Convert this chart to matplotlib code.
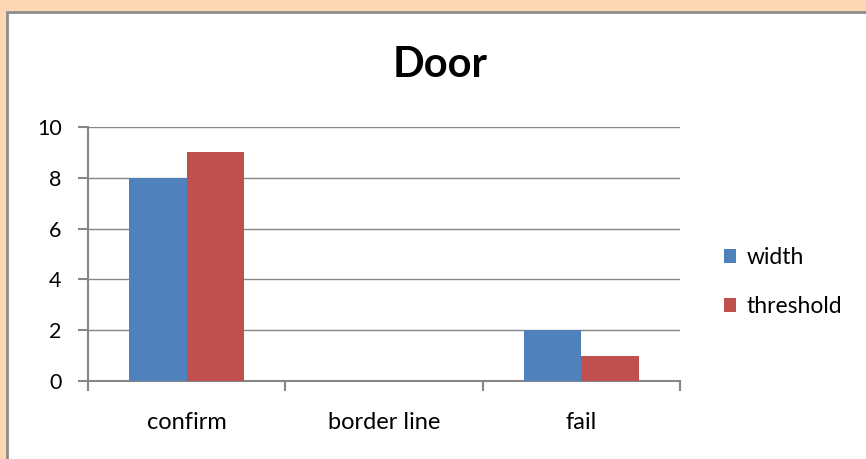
import matplotlib
matplotlib.use("Agg")
import matplotlib.pyplot as plt
from matplotlib.patches import Rectangle
import numpy as np

categories = ["confirm", "border line", "fail"]
width_vals = [8, 0, 2]
threshold_vals = [9, 0, 1]
series_names = ["width", "threshold"]
yticks = [0, 2, 4, 6, 8, 10]

plt.rcParams['font.family'] = ['Lato', 'DejaVu Sans']

W, H = 866, 459
fig = plt.figure(figsize=(W/100, H/100), dpi=100)
fig.patch.set_facecolor('#FDD6B5')
# white chart area with gray border on top/left
fig.patches.append(Rectangle((7/W, -0.1), 1.2, (H-12)/H + 0.1, transform=fig.transFigure,
                             facecolor='white', edgecolor='#8C8C8C', linewidth=2, zorder=-5))

ax = fig.add_axes([88/W, 1-381/H, (680-88)/W, (381-127)/H])
ax.set_zorder(2)
ax.set_facecolor('none')
x = np.arange(len(categories))
bw = 0.29
c_blue = '#4F81BD'
c_red = '#C0504D'
ax.bar(x - bw/2, width_vals, bw, color=c_blue, label=series_names[0], zorder=3)
ax.bar(x + bw/2, threshold_vals, bw, color=c_red, label=series_names[1], zorder=3)

ax.set_xlim(-0.5, len(categories) - 0.5)
ax.set_ylim(0, 10)
ax.set_yticks(yticks)
ax.set_yticklabels([str(v) for v in yticks], fontsize=15.5)
ax.set_xticks(x)
ax.set_xticklabels(categories, fontsize=17)
ax.tick_params(axis='x', length=0, pad=22)
ax.set_xticks(np.arange(len(categories)+1) - 0.5, minor=True)
ax.tick_params(axis='x', which='minor', length=7, color='#868686', width=1.5)
ax.tick_params(axis='y', length=7, color='#868686', width=1.5, pad=12)
ax.grid(axis='y', color='#868686', linewidth=1, zorder=0)
for s in ['top', 'right']:
    ax.spines[s].set_visible(False)
for s in ['left', 'bottom']:
    ax.spines[s].set_color('#868686')
    ax.spines[s].set_linewidth(1.5)

fig.text(440/W, 1-65/H, "Door", ha='center', va='center', fontsize=30, fontweight='bold')

leg = fig.legend(loc='center left', bbox_to_anchor=(703/W, 1-282/H), frameon=False,
                 fontsize=16.5, handlelength=0.55, handleheight=0.55, labelspacing=1.2,
                 handletextpad=0.45)

fig.savefig("out.png", dpi=100, facecolor=fig.get_facecolor())
